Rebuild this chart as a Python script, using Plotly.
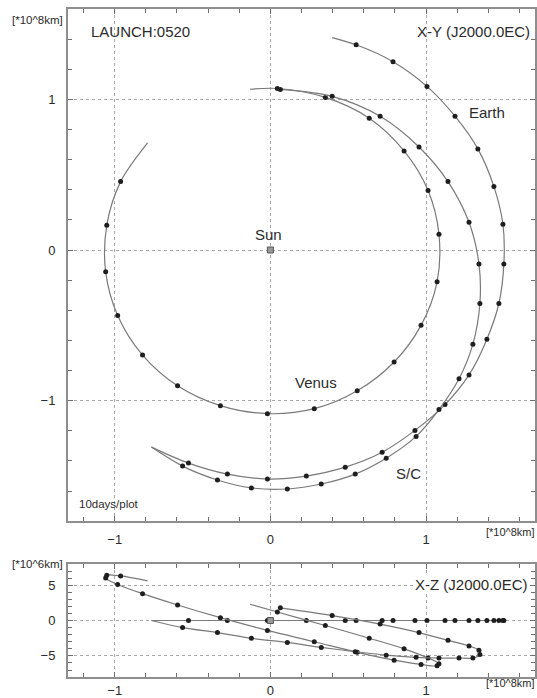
import plotly.graph_objects as go

# Heliocentric positions, J2000.0 ecliptic, launch 05-20 (x, y in 1e8 km, z in 1e6 km)
# Day 0 is launch; dots are plotted every 10 days; last entry is the end of the run.
earth_days = [0, 10, 20, 30, 40, 50, 60, 70, 80, 90, 100, 110, 120, 130, 140, 150, 160, 170, 180, 190, 196]
earth_x = [-0.764, -0.526, -0.276, -0.019, 0.231, 0.481, 0.718, 0.929, 1.122, 1.276, 1.391,
           1.468, 1.500, 1.494, 1.436, 1.333, 1.186, 1.006, 0.788, 0.551, 0.397]
earth_y = [-1.308, -1.414, -1.487, -1.520, -1.500, -1.441, -1.342, -1.197, -1.026, -0.829, -0.592,
           -0.355, -0.092, 0.171, 0.421, 0.671, 0.888, 1.086, 1.250, 1.362, 1.410]
earth_z = [0.0, 0.0, 0.0, 0.0, 0.0, 0.0, 0.0, 0.0, 0.0, 0.0, 0.0,
           0.0, 0.0, 0.0, 0.0, 0.0, 0.0, 0.0, 0.0, 0.0, 0.0]

venus_days = [0, 10, 20, 30, 40, 50, 60, 70, 80, 90, 100, 110, 120, 130, 140, 150, 160, 170, 180, 190, 196]
venus_x = [-0.789, -0.962, -1.051, -1.058, -0.981, -0.821, -0.596, -0.321, -0.019, 0.282, 0.558,
           0.795, 0.968, 1.071, 1.083, 1.013, 0.859, 0.635, 0.353, 0.045, -0.131]
venus_y = [0.711, 0.454, 0.164, -0.145, -0.434, -0.697, -0.901, -1.033, -1.086, -1.053, -0.934,
           -0.743, -0.500, -0.211, 0.105, 0.395, 0.658, 0.875, 1.013, 1.072, 1.067]
venus_z = [5.6, 6.3, 6.4, 6.0, 5.1, 3.8, 2.2, 0.4, -1.4, -3.0, -4.5,
           -5.6, -6.2, -6.4, -6.1, -5.3, -4.0, -2.5, -0.7, 1.2, 2.3]

sc_days = [0, 10, 20, 30, 40, 50, 60, 70, 80, 90, 100, 110, 120, 130, 140, 150, 160, 170, 180, 190]
sc_x = [-0.764, -0.564, -0.340, -0.122, 0.109, 0.327, 0.545, 0.744, 0.936, 1.083,
        1.212, 1.301, 1.346, 1.340, 1.276, 1.141, 0.955, 0.705, 0.397, 0.064]
sc_y = [-1.308, -1.434, -1.526, -1.579, -1.586, -1.553, -1.487, -1.382, -1.237, -1.059,
        -0.855, -0.625, -0.355, -0.092, 0.184, 0.454, 0.684, 0.888, 1.020, 1.066]
sc_z = [0.0, -1.0, -1.7, -2.5, -3.1, -3.8, -4.4, -4.9, -5.2, -5.3,
        -5.3, -5.3, -4.8, -4.2, -3.6, -2.8, -1.7, -0.5, 0.7, 1.8]

sun_x = [0.0]
sun_y = [0.0]
sun_z = [0.0]

# Tick spacing (major / minor) for each axis
x_step, x_minor = 1, 0.2
xy_step, xy_minor = 1, 0.2
xz_step, xz_minor = 5, 1

W, H = 537, 698
FONT = "Liberation Sans, Arial, sans-serif"
TXT = "#2b2b2b"
ORBIT = "#7a7a7a"
DOT = "#1e1e1e"
FRAME = "#8e8e8e"
TICK = "#6e6e6e"
GRID = "#a8a8a8"


def fx(p):
    return p / W


def fy(p):
    return 1 - p / H


fig = go.Figure()


def add_body(xs, ys, zs, days):
    marked = [d > 0 and d % 10 == 0 for d in days]
    for xa, ya, vals in (("x", "y", ys), ("x2", "y2", zs)):
        fig.add_trace(go.Scatter(
            x=xs, y=vals, mode="lines", xaxis=xa, yaxis=ya,
            line=dict(color=ORBIT, width=1.2, shape="spline", smoothing=0.9),
            hoverinfo="skip", showlegend=False))
        fig.add_trace(go.Scatter(
            x=[v for v, m in zip(xs, marked) if m],
            y=[v for v, m in zip(vals, marked) if m],
            mode="markers", xaxis=xa, yaxis=ya,
            marker=dict(size=5, color=DOT, line=dict(width=0)),
            hoverinfo="skip", showlegend=False))


add_body(earth_x, earth_y, earth_z, earth_days)
add_body(venus_x, venus_y, venus_z, venus_days)
add_body(sc_x, sc_y, sc_z, sc_days)

for xa, ya, vals in (("x", "y", sun_y), ("x2", "y2", sun_z)):
    fig.add_trace(go.Scatter(
        x=sun_x, y=vals, mode="markers", xaxis=xa, yaxis=ya,
        marker=dict(symbol="square", size=6, color="#9a9a9a", line=dict(color="#555", width=1)),
        hoverinfo="skip", showlegend=False))

axis_common = dict(
    showline=True, linecolor=FRAME, linewidth=2, mirror="allticks",
    ticks="inside", ticklen=5, tickcolor=TICK, tickwidth=1,
    showgrid=True, gridcolor=GRID, griddash="dot", gridwidth=1,
    zeroline=False, tickfont=dict(family=FONT, size=13, color=TXT),
    tickmode="linear", tick0=0,
)


def minor(step):
    return dict(tickmode="linear", dtick=step, tick0=0, ticks="inside", ticklen=4,
                tickcolor=TICK, tickwidth=1, showgrid=False)


x_dom = [fx(68), fx(535)]
fig.update_layout(
    width=W, height=H, autosize=False,
    margin=dict(l=0, r=0, t=0, b=0),
    paper_bgcolor="white", plot_bgcolor="white",
    showlegend=False,
    xaxis=dict(domain=x_dom, anchor="y", range=[-1.3, 1.7], dtick=x_step,
               minor=minor(x_minor), ticklabelstandoff=5, **axis_common),
    yaxis=dict(domain=[fy(525), fy(9)], anchor="x", range=[-1.8, 1.6], dtick=xy_step,
               minor=minor(xy_minor), ticklabelstandoff=8, **axis_common),
    xaxis2=dict(domain=x_dom, anchor="y2", range=[-1.3, 1.7], dtick=x_step,
                minor=minor(x_minor), ticklabelstandoff=0, **axis_common),
    yaxis2=dict(domain=[fy(682), fy(568)], anchor="x2", range=[-8, 8], dtick=xz_step,
                minor=minor(xz_minor), ticklabelstandoff=8, **axis_common),
)


def label(text, px, py, size, anchor="center", bg=None):
    fig.add_annotation(
        text=text, x=fx(px), y=fy(py), xref="paper", yref="paper",
        xanchor=anchor, yanchor="middle", showarrow=False,
        bgcolor=bg, borderpad=0,
        font=dict(family=FONT, size=size, color=TXT))


label("[*10^8km]", 37, 20, 11.5)
label("LAUNCH:0520", 90, 32, 15, "left")
label("X-Y (J2000.0EC)", 531, 32, 15, "right")
label("Sun", 268, 236, 15)
label("Earth", 487, 113, 15)
label("Venus", 316, 385, 15)
label("S/C", 408, 477, 15)
label("10days/plot", 78, 508, 11.5, "left")
label("[*10^8km]", 536, 536, 11, "right")
label("[*10^6km]", 37, 568, 11.5)
label("X-Z (J2000.0EC)", 529, 589, 15, "right", bg="white")
label("[*10^8km]", 536, 688, 11, "right")

fig.write_html("out.html")
